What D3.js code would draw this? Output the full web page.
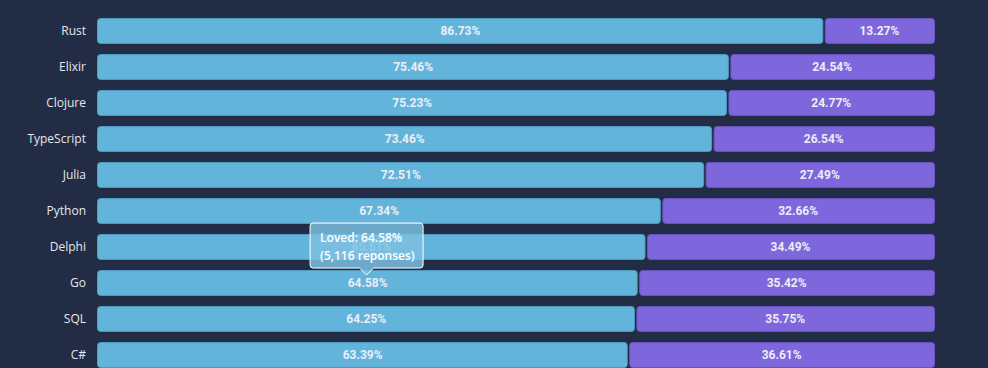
<!DOCTYPE html>
<html><head><meta charset="utf-8">
<script src="https://cdn.jsdelivr.net/npm/d3@7"></script>
<style>
html,body{margin:0;padding:0;background:#222c44;overflow:hidden;}
</style></head>
<body><svg id="c" width="988" height="368"></svg>
<script>
const categories = ["Rust","Elixir","Clojure","TypeScript","Julia","Python","Delphi","Go","SQL","C#"];
const loved = [86.73,75.46,75.23,73.46,72.51,67.34,65.51,64.58,64.25,63.39];
const dreaded = [13.27,24.54,24.77,26.54,27.49,32.66,34.49,35.42,35.75,36.61];
const tooltipCategory = "Go";
const tooltipLines = ["Loved: 64.58%","(5,116 reponses)"];

const svg = d3.select("#c");
const x = d3.scaleLinear().domain([0,100]).range([97,935]);
const y = d3.scaleBand().domain(categories).range([13,373]).paddingInner(0.28).paddingOuter(0.14);

const g = svg.append("g");
categories.forEach((c,i)=>{
  const yy = y(c), h = y.bandwidth();
  const x0 = x(0), x1 = x(loved[i]), x2 = x(100);
  g.append("rect").attr("x",x0+0.5).attr("y",yy+0.5).attr("width",x1-x0-1.5).attr("height",h-1)
    .attr("rx",3).attr("fill","#63b4db").attr("stroke","#4d9cc4").attr("stroke-width",1);
  g.append("rect").attr("x",x1+1.5).attr("y",yy+0.5).attr("width",x2-x1-2).attr("height",h-1)
    .attr("rx",3).attr("fill","#7e66dc").attr("stroke","#6a53c4").attr("stroke-width",1);
  g.append("text").attr("x",(x0+x1)/2).attr("y",yy+h/2).attr("dy","0.36em").attr("text-anchor","middle")
    .attr("font-family","Roboto, sans-serif").attr("font-weight","bold").attr("font-size",12).attr("fill","#eceef6")
    .text(loved[i].toFixed(2)+"%");
  g.append("text").attr("x",(x1+x2)/2).attr("y",yy+h/2).attr("dy","0.36em").attr("text-anchor","middle")
    .attr("font-family","Roboto, sans-serif").attr("font-weight","bold").attr("font-size",12).attr("fill","#eceef6")
    .text(dreaded[i].toFixed(2)+"%");
  g.append("text").attr("x",86).attr("y",yy+h/2).attr("dy","0.36em").attr("text-anchor","end")
    .attr("font-family","'Open Sans', sans-serif").attr("font-size",12).attr("fill","#e6e8ee")
    .text(c);
});

// tooltip
const ti = categories.indexOf(tooltipCategory);
const tcx = (x(0)+x(loved[ti]))/2 - 1;
const tipY = y(tooltipCategory) + 5;
const tw = 113, th = 45, tTop = tipY - 7 - th;
const tLeft = tcx - tw/2;
const p = d3.path();
const r=3;
p.moveTo(tLeft+r, tTop);
p.lineTo(tLeft+tw-r, tTop); p.arcTo(tLeft+tw, tTop, tLeft+tw, tTop+r, r);
p.lineTo(tLeft+tw, tTop+th-r); p.arcTo(tLeft+tw, tTop+th, tLeft+tw-r, tTop+th, r);
p.lineTo(tcx+7, tTop+th); p.lineTo(tcx, tipY); p.lineTo(tcx-7, tTop+th);
p.lineTo(tLeft+r, tTop+th); p.arcTo(tLeft, tTop+th, tLeft, tTop+th-r, r);
p.lineTo(tLeft, tTop+r); p.arcTo(tLeft, tTop, tLeft+r, tTop, r);
p.closePath();
svg.append("path").attr("d",p.toString()).attr("fill","rgba(125,192,226,0.85)").attr("stroke","#ffffff").attr("stroke-width",1);
tooltipLines.forEach((t,k)=>{
  svg.append("text").attr("x",tLeft+10).attr("y",tTop+15+k*18).attr("dy","0.36em")
    .attr("font-family","'Open Sans', sans-serif").attr("font-weight",600).attr("font-size",12).attr("fill","#ffffff").text(t);
});
</script></body></html>
